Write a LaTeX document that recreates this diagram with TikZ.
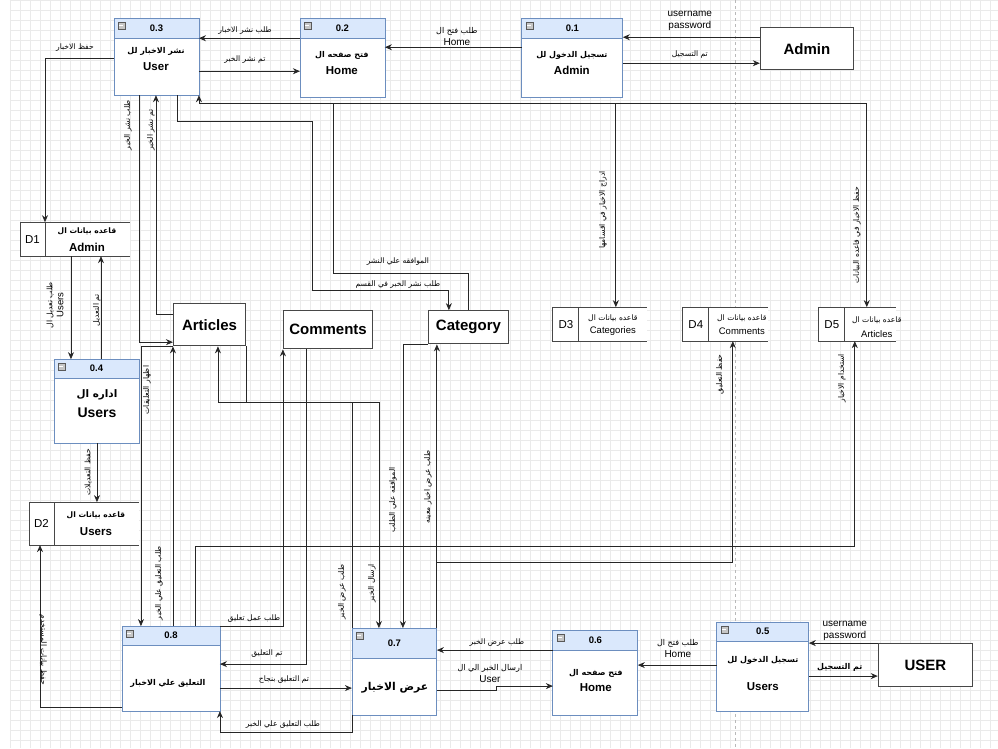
\documentclass[tikz,border=0pt]{standalone}
\usepackage{fontspec}
\setmainfont{Liberation Sans}
\newfontfamily\arfont[Script=Arabic, Scale=0.8]{DejaVu Sans}
\TeXXeTstate=1
\usetikzlibrary{arrows.meta}

\definecolor{procline}{HTML}{6C8EBF}
\definecolor{headfill}{HTML}{DAE8FC}
\definecolor{flowline}{HTML}{262626}
\definecolor{entline}{HTML}{474747}
\definecolor{gridline}{HTML}{EAEAEA}

\newcommand{\AR}[1]{{\arfont\beginR #1\endR}}

\begin{document}
\begin{tikzpicture}[x=1pt, y=-1pt,
    box/.style={anchor=north west, inner sep=0pt, outer sep=0pt, fill=white},
    ent/.style={anchor=north west, inner sep=0pt, draw=entline, line width=1.2pt, fill=white,
        font=\bfseries\fontsize{15}{17}\selectfont},
    storeline/.style={draw=entline, line width=0.9pt},
    flow/.style={draw=flowline, line width=0.8pt, -{Stealth[length=7pt, width=6pt]}},
    lbl/.style={font=\fontsize{9.5}{11}\selectfont, inner sep=1pt, align=center},
    rlbl/.style={lbl, rotate=90},
    ptext/.style={font=\bfseries\fontsize{10}{12}\selectfont},
    pname/.style={font=\bfseries\fontsize{11.5}{13}\selectfont}]

    % Page with grid
    \fill[white] (0,0) rectangle (998,748);
    \draw[gridline, line width=0.5pt, step=10pt] (10,0) grid (998,748);
    \useasboundingbox (0,0) rectangle (998,748);
    \draw[gray!55, dashed, line width=0.6pt] (735,0) -- (735,748);

    % Processes
    \node[box, minimum width=101pt, minimum height=79pt] (p1) at (522,18) {};
    \node[box, minimum width=85pt, minimum height=79pt] (p2) at (300,18) {};
    \node[box, minimum width=85pt, minimum height=77pt] (p3) at (114,18) {};
    \node[box, minimum width=85pt, minimum height=84pt] (p4) at (54,359) {};
    \node[box, minimum width=92pt, minimum height=89pt] (p5) at (717,622) {};
    \node[box, minimum width=85pt, minimum height=85pt] (p6) at (553,630) {};
    \node[box, minimum width=85pt, minimum height=87pt] (p7) at (352,628) {};
    \node[box, minimum width=98pt, minimum height=85pt] (p8) at (122,626) {};
    \foreach \n/\h/\id in {p1/20pt/0.1, p2/20pt/0.2, p3/20pt/0.3, p4/19pt/0.4,
                           p5/19pt/0.5, p6/20pt/0.6, p7/30pt/0.7, p8/19pt/0.8} {
        \fill[headfill] (\n.north west) rectangle ([yshift=-\h]\n.north east);
        \draw[procline, line width=0.8pt] (\n.north west) rectangle (\n.south east);
        \draw[procline, line width=0.8pt] ([yshift=-\h]\n.north west) -- ([yshift=-\h]\n.north east);
        \filldraw[fill=gray!45, draw=gray!70!black, line width=0.4pt]
            ([shift={(4pt,-4pt)}]\n.north west) rectangle ([shift={(11pt,-11pt)}]\n.north west);
        \draw[white, line width=0.9pt] ([shift={(5.5pt,-7.5pt)}]\n.north west) -- ([shift={(9.5pt,-7.5pt)}]\n.north west);
        \node[font=\bfseries\fontsize{9.5}{11}\selectfont] (id\n) at ([yshift=-\h/2]\n.north) {\id};
    }
    \node[ptext] (t1) at (572,55) {\AR{تسجيل الدخول لل}};
    \node[pname] (n1) at (572,70) {Admin};
    \node[ptext] (t2) at (342,55) {\AR{فتح صفحه ال}};
    \node[pname] (n2) at (342,70) {Home};
    \node[ptext] (t3) at (156,51) {\AR{نشر الاخبار لل}};
    \node[pname] (n3) at (156,66) {User};
    \node[ptext, font=\bfseries\fontsize{13}{15}\selectfont] (t4) at (97,395) {\AR{اداره ال}};
    \node[pname, font=\bfseries\fontsize{14}{16}\selectfont] (n4) at (97,413) {Users};
    \node[ptext] (t5) at (763,660) {\AR{تسجيل الدخول لل}};
    \node[pname] (n5) at (763,687) {Users};
    \node[ptext] (t6) at (596,673) {\AR{فتح صفحه ال}};
    \node[pname] (n6) at (596,688) {Home};
    \node[ptext, font=\bfseries\fontsize{13.5}{15}\selectfont] (t7) at (395,688) {\AR{عرض الاخبار}};
    \node[ptext] (t8) at (168,683) {\AR{التعليق علي الاخبار}};

    % External entities
    \node[ent, minimum width=93pt, minimum height=42pt] (admin) at (760,27) {Admin};
    \node[ent, minimum width=94pt, minimum height=43pt] (user) at (878,643) {USER};
    \node[ent, minimum width=72pt, minimum height=42pt] (art) at (173,303) {Articles};
    \node[ent, minimum width=89pt, minimum height=38pt] (com) at (283,310) {Comments};
    \node[ent, minimum width=80pt, minimum height=33pt] (cat) at (428,310) {Category};

    % Data stores
    \node[box, minimum width=110pt, minimum height=34pt] (d1) at (20,222) {};
    \node[box, minimum width=110pt, minimum height=43pt] (d2) at (29,502) {};
    \node[box, minimum width=94pt, minimum height=34pt] (d3) at (553,307) {};
    \node[box, minimum width=85pt, minimum height=34pt] (d4) at (683,307) {};
    \node[box, minimum width=77pt, minimum height=34pt] (d5) at (819,307) {};
    \foreach \n/\dx/\id in {d1/25pt/D1, d2/25pt/D2, d3/26pt/D3, d4/26pt/D4, d5/26pt/D5} {
        \draw[storeline] (\n.north east) -- (\n.north west) -- (\n.south west) -- (\n.south east);
        \draw[storeline] ([xshift=\dx]\n.north west) -- ([xshift=\dx]\n.south west);
        \node[font=\fontsize{11.5}{13}\selectfont] (id\n) at ([xshift=\dx/2]\n.west) {\id};
    }
    \node[ptext, font=\bfseries\fontsize{9.5}{11}\selectfont] (s1) at (87,231) {\AR{قاعده بيانات ال}};
    \node[pname] (m1) at (87,247) {Admin};
    \node[ptext, font=\bfseries\fontsize{9.5}{11}\selectfont] (s2) at (96,515) {\AR{قاعده بيانات ال}};
    \node[pname] (m2) at (96,531) {Users};
    \node[lbl] (s3) at (613,318) {\AR{قاعده بيانات ال}};
    \node[lbl] (m3) at (613,331) {Categories};
    \node[lbl] (s4) at (742,318) {\AR{قاعده بيانات ال}};
    \node[lbl] (m4) at (742,331) {Comments};
    \node[lbl] (s5) at (877,320) {\AR{قاعده بيانات ال}};
    \node[lbl] (m5) at (877,334) {Articles};

    % Admin side flows
    \draw[flow] (admin.west |- 0,37) -- (p1.east |- 0,37);
    \draw[flow] (p1.east |- 0,63) -- (admin.west |- 0,63);
    \draw[flow] (p1.west |- 0,47) -- (p2.east |- 0,47);
    \draw[flow] (p2.west |- 0,38) -- (p3.east |- 0,38);
    \draw[flow] (p3.east |- 0,71) -- (p2.west |- 0,71);
    \draw[flow] (p3.west |- 0,58) -| (45,0 |- d1.north);
    \draw[flow] (469,0 |- cat.north) -- (469,273) -| (333,103) -| (199,0 |- p3.south);
    \draw[flow] (333,103) -| (616,0 |- d3.north);
    \draw[flow] (616,103) -| (867,0 |- d5.north);
    \draw[flow] (177,0 |- p3.south) |- (312,121) |- (449,290) -- (449,0 |- cat.north);
    \draw[flow] (139,0 |- p3.south) |- (art.west |- 0,342);
    \draw[flow] (art.west |- 0,314) -| (156,0 |- p3.south);
    \draw[flow] (71,0 |- d1.south) -- (71,0 |- p4.north);
    \draw[flow] (101,0 |- p4.north) -- (101,0 |- d1.south);
    \draw[flow] (97,0 |- p4.south) -- (97,0 |- d2.north);

    % User side flows
    \draw[flow] (p8.west |- 0,707) -| (40,0 |- d2.south);
    \draw[flow] (art.south west) -| (141,0 |- p8.north);
    \draw[flow] (173,0 |- p8.north) -- (173,0 |- art.south);
    \draw[flow] (195,0 |- p8.north) |- (855,546) -- (855,0 |- d5.south);
    \draw[flow] (p8.north east) -| (283,0 |- com.south);
    \draw[flow] (306,0 |- com.south) |- (p8.east |- 0,664);
    \draw[flow] (p8.east |- 0,688) -- (p7.west |- 0,688);
    \draw[flow] (p7.south west) |- (220,732) -- (p8.south east);
    \draw[flow] (p7.north west) |- (218,402) -- (218,0 |- art.south);
    \draw[flow] (art.south east) |- (379,402) -- (379,0 |- p7.north);
    \draw[flow] (cat.south west) -| (403,0 |- p7.north);
    \draw[flow] (p7.north east) -- (437,0 |- cat.south);
    \draw[flow] (p7.north east) |- (733,562) -- (733,0 |- d4.south);
    \draw[flow] (p6.west |- 0,650) -- (p7.east |- 0,650);
    \draw[flow] (p7.east |- 0,690) -- (497,690) -- (497,686) -- (p6.west |- 0,686);
    \draw[flow] (p5.west |- 0,665) -- (p6.east |- 0,665);
    \draw[flow] (user.west |- 0,643) -- (p5.east |- 0,643);
    \draw[flow] (p5.east |- 0,676) -- (user.west |- 0,676);

    % Flow labels
    \node[lbl, font=\fontsize{10}{12}\selectfont] (l1) at (690,21) {username\\password};
    \node[lbl] (l2) at (690,54) {\AR{تم التسجيل}};
    \node[lbl, font=\fontsize{10}{12}\selectfont] (l3) at (457,36) {\AR{طلب فتح ال}\\Home};
    \node[lbl] (l4) at (245,30) {\AR{طلب نشر الاخبار}};
    \node[lbl] (l5) at (245,59) {\AR{تم نشر الخبر}};
    \node[lbl] (l6) at (75,47) {\AR{حفظ الاخبار}};
    \node[lbl] (l7) at (398,261) {\AR{الموافقه علي النشر}};
    \node[rlbl] (l8) at (603,210) {\AR{ادراج الاخبار في اقسامها}};
    \node[rlbl] (l9) at (857,235) {\AR{حفظ الاخبار في قاعده البيانات}};
    \node[lbl] (l10) at (398,284) {\AR{طلب نشر الخبر في القسم}};
    \node[rlbl] (l11) at (128,125) {\AR{طلب نشر الخبر}};
    \node[rlbl] (l12) at (151,130) {\AR{تم نشر الخبر}};
    \node[rlbl] (l13) at (55,305) {\AR{طلب تعديل ال}\\Users};
    \node[rlbl] (l14) at (97,310) {\AR{تم التعديل}};
    \node[rlbl] (l15) at (88,472) {\AR{حفظ التعديلات}};
    \node[lbl, rotate=-90] (l16) at (43,650) {\AR{حفظ بيانات المستخدم}};
    \node[rlbl] (l17) at (147,390) {\AR{اظهار التعليقات}};
    \node[rlbl] (l18) at (159,583) {\AR{طلب التعليق علي الخبر}};
    \node[rlbl] (l19) at (842,378) {\AR{استخدام الاخبار}};
    \node[lbl] (l20) at (254,618) {\AR{طلب عمل تعليق}};
    \node[lbl] (l21) at (267,653) {\AR{تم التعليق}};
    \node[lbl] (l22) at (284,679) {\AR{تم التعليق بنجاح}};
    \node[lbl] (l23) at (283,724) {\AR{طلب التعليق علي الخبر}};
    \node[rlbl] (l24) at (342,592) {\AR{طلب عرض الخبر}};
    \node[rlbl] (l25) at (372,583) {\AR{ارسال الخبر}};
    \node[rlbl] (l26) at (393,500) {\AR{الموافقه علي الطلب}};
    \node[rlbl] (l27) at (428,487) {\AR{طلب عرض اخبار معينه}};
    \node[rlbl] (l28) at (720,374) {\AR{حفظ التعليق}};
    \node[lbl] (l29) at (497,642) {\AR{طلب عرض الخبر}};
    \node[lbl, font=\fontsize{10}{12}\selectfont] (l30) at (490,673) {\AR{ارسال الخبر الي ال}\\User};
    \node[lbl, font=\fontsize{10}{12}\selectfont] (l31) at (678,648) {\AR{طلب فتح ال}\\Home};
    \node[lbl, font=\fontsize{10}{12}\selectfont] (l32) at (845,631) {username\\password};
    \node[lbl, font=\bfseries\fontsize{10}{12}\selectfont] (l33) at (840,667) {\AR{تم التسجيل}};

\end{tikzpicture}
\end{document}
